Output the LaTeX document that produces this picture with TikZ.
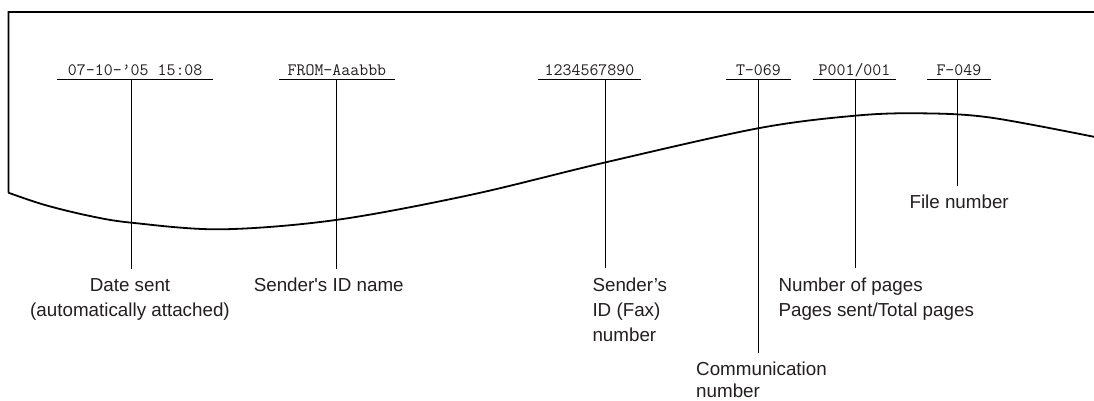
\documentclass[tikz,border=0pt]{standalone}
\usepackage{fontspec}
\setmainfont{Liberation Sans}[Ligatures=TeXOff]
\definecolor{ink}{RGB}{35,31,32}
\begin{document}
\begin{tikzpicture}[x=1pt,y=-1pt,
  paper/.style={line width=1.8pt, line join=miter},
  leader/.style={line width=0.9pt},
  fieldtxt/.style={font=\ttfamily\fontsize{17.4}{20}\selectfont, text=ink, inner sep=0pt, text depth=3.3pt, anchor=base},
  lbl/.style={font=\fontsize{18.8}{25}\selectfont, text=ink, inner sep=0pt, anchor=base},
  lblw/.style={lbl, anchor=base west, align=left}
]
\fill[white] (0,0) rectangle (1094,400);
\useasboundingbox (0,0) rectangle (1094,400);

% paper outline
\draw[paper] (1100,12) -- (8.4,12) -- (8.4,192.7)
  plot[smooth, tension=0.55] coordinates {(8.4,192.7) (45,205) (90,216) (131.5,222.7) (221,229.3) (335.7,220) (470,195) (604,162.7) (758,128.3) (855,115.7) (920,113.3) (990,117.5) (1100,138)};

% printed header fields
\node[fieldtxt, minimum width=155.4] (f1) at (135.2,75.7) {07-10-’05 15:08};
\node[fieldtxt, minimum width=116.2] (f2) at (336.9,75.7) {FROM-Aaabbb};
\node[fieldtxt, minimum width=102.4] (f3) at (589.5,75.7) {1234567890};
\node[fieldtxt, minimum width=64.3] (f4) at (758.4,75.7) {T-069};
\node[fieldtxt, minimum width=83.4] (f5) at (854.5,75.7) {P001/001};
\node[fieldtxt, minimum width=64] (f6) at (958.9,75.7) {F-049};
\foreach \n in {f1,f2,f3,f4,f5,f6}
  \draw[leader] (\n.south west) -- (\n.south east);

% leader ends
\coordinate (e1) at (131.7,269);
\coordinate (e2) at (336,269);
\coordinate (e3) at (605,268);
\coordinate (e4) at (758,353);
\coordinate (e5) at (855,268);
\coordinate (e6) at (957.3,186);

\draw[leader] (e1 |- f1.south) -- (e1);
\draw[leader] (e2 |- f2.south) -- (e2);
\draw[leader] (e3 |- f3.south) -- (e3);
\draw[leader] (e4 |- f4.south) -- (e4);
\draw[leader] (e5 |- f5.south) -- (e5);
\draw[leader] (e6 |- f6.south) -- (e6);

% explanations (base anchor = baseline of the last line)
\node[lbl, align=center] (l1) at (130,316.7) {Date sent\\(automatically attached)};
\node[lbl, align=center] (l2) at (328.7,291.7) {Sender's ID name};
\node[lblw] (l3) at (592.3,341.7) {Sender’s\\ID (Fax)\\number};
\node[lblw, font=\fontsize{18.8}{22}\selectfont] (l4) at (696,397.3) {Communication\\number};
\node[lblw] (l5) at (778.3,316.7) {Number of pages\\Pages sent/Total pages};
\node[lblw] (l6) at (909.3,208.3) {File number};
\end{tikzpicture}
\end{document}
